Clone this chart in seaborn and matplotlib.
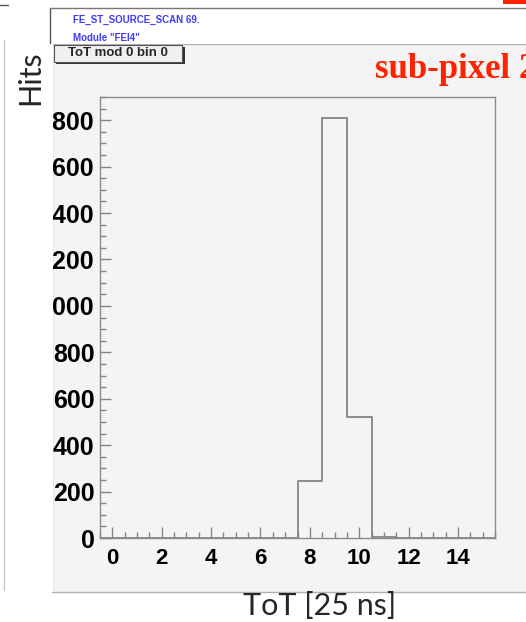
import numpy as np
import pandas as pd
import matplotlib
matplotlib.use("Agg")
import matplotlib.pyplot as plt
import seaborn as sns
from matplotlib.patches import Rectangle
from matplotlib.lines import Line2D
from matplotlib.ticker import MultipleLocator, FixedLocator

# ── Data ───────────────────────────────────────────────────────────────────────
tot_bins = list(range(0, 16))
hits = [0, 0, 0, 0, 0, 0, 0, 0, 246, 1809, 523, 4, 0, 0, 0, 0]
x_ticks = [0, 2, 4, 6, 8, 10, 12, 14]
y_ticks = [0, 200, 400, 600, 800, 1000, 1200, 1400, 1600, 1800]

W, H = 526, 622
PANEL = "#f4f4f4"
LINE = "#858585"

sns.set_style("white")
plt.rcParams["font.family"] = ["Liberation Sans", "DejaVu Sans"]

fig = plt.figure(figsize=(W / 100, H / 100), dpi=100)
fig.patch.set_facecolor("white")


def fx(px):
    return px / W


def fy(py):
    return 1 - py / H


# ROOT canvas panel behind the axes
fig.patches.append(Rectangle((fx(52), fy(592)), fx(W), (592 - 44) / H,
                             transform=fig.transFigure, facecolor=PANEL,
                             edgecolor="#b0b0b0", linewidth=1, zorder=-5))
# white title strip on top
fig.patches.append(Rectangle((fx(50), fy(44)), fx(W), 36 / H,
                             transform=fig.transFigure, facecolor="white",
                             edgecolor="none", zorder=-4))

ax = fig.add_axes([fx(100), fy(538), fx(495) - fx(100), (538 - 97) / H])
ax.set_facecolor(PANEL)

df = pd.DataFrame({"tot": tot_bins, "hits": hits})
sns.histplot(data=df, x="tot", weights="hits", binwidth=1, binrange=(-0.5, 15.5),
             element="step", fill=False, color=LINE, linewidth=1.3, ax=ax)

ax.set_xlim(-0.5, 15.5)
ax.set_ylim(0, 1900)
ax.set_xlabel("")
ax.set_ylabel("")
ax.xaxis.set_major_locator(FixedLocator(x_ticks))
ax.xaxis.set_minor_locator(MultipleLocator(0.5))
ax.yaxis.set_major_locator(FixedLocator(y_ticks))
ax.yaxis.set_minor_locator(MultipleLocator(50))
ax.set_xticklabels([str(v) for v in x_ticks], fontweight="bold", fontsize=16)
ax.set_yticklabels([str(v) for v in y_ticks], fontweight="bold", fontsize=18)
ax.tick_params(which="both", direction="in", colors=LINE, labelcolor="black",
               left=True, bottom=True, top=False, right=False)
ax.tick_params(which="major", length=8, width=1)
ax.tick_params(which="minor", length=4, width=1)
ax.tick_params(axis="x", pad=7.5)
ax.tick_params(axis="y", pad=4)
for spine in ax.spines.values():
    spine.set_edgecolor("#8a8a8a")
    spine.set_linewidth(1)

# white margin left of the panel clips the leading "1" of the y labels
fig.patches.append(Rectangle((0, fy(592)), fx(53), (592 - 44) / H, transform=fig.transFigure,
                             facecolor="white", edgecolor="none", zorder=2))
fig.lines.append(Line2D([fx(4), fx(4)], [fy(40), fy(590)], transform=fig.transFigure,
                        color="#c8c8c8", linewidth=1, zorder=3))
fig.lines.append(Line2D([0, fx(8)], [fy(5), fy(5)], transform=fig.transFigure,
                        color="#555555", linewidth=1, zorder=3))
fig.lines.append(Line2D([fx(49.5), fx(49.5)], [fy(8), fy(43)], transform=fig.transFigure,
                        color="#555555", linewidth=1, zorder=3))
fig.lines.append(Line2D([fx(49.5), 1], [fy(8), fy(8)], transform=fig.transFigure,
                        color="#777777", linewidth=1, zorder=3))
# red fragment cut by the top edge
fig.patches.append(Rectangle((fx(503), fy(4)), fx(23), 4 / H, transform=fig.transFigure,
                             facecolor="#ff2200", edgecolor="none", zorder=3))

# title strip text
fig.text(fx(73), fy(20), "FE_ST_SOURCE_SCAN 69.", color="#3c3cf5", fontsize=7,
         fontweight="bold", va="center", ha="left")
fig.text(fx(73), fy(38), 'Module "FEI4"', color="#3c3cf5", fontsize=7,
         fontweight="bold", va="center", ha="left")

# stat box
fig.patches.append(Rectangle((fx(56), fy(64)), fx(129), 17 / H, transform=fig.transFigure,
                             facecolor="#333333", edgecolor="none", zorder=3))
fig.patches.append(Rectangle((fx(54), fy(62)), fx(128), 17 / H, transform=fig.transFigure,
                             facecolor="#f0f0f0", edgecolor="#555555", linewidth=0.8, zorder=4))
fig.text(fx(118), fy(53.5), "ToT mod 0 bin 0", fontsize=9.5, fontweight="bold",
         ha="center", va="center", zorder=5)

# red annotation
fig.text(fx(375), fy(78), "sub-pixel 2", color="#ff2200", fontsize=25,
         fontweight="bold", family=["Liberation Serif", "DejaVu Serif"],
         ha="left", va="baseline", zorder=5)

# outer axis titles
fig.text(fx(30), fy(78), "Hits", rotation=90, fontsize=22,
         family=["Lato", "DejaVu Sans"], ha="center", va="center", zorder=5)
fig.text(fx(320), fy(606), "ToT [25 ns]", fontsize=22,
         family=["Lato", "DejaVu Sans"], ha="center", va="center", zorder=5)

plt.savefig("out.png", dpi=100, facecolor=fig.get_facecolor())
plt.close()
